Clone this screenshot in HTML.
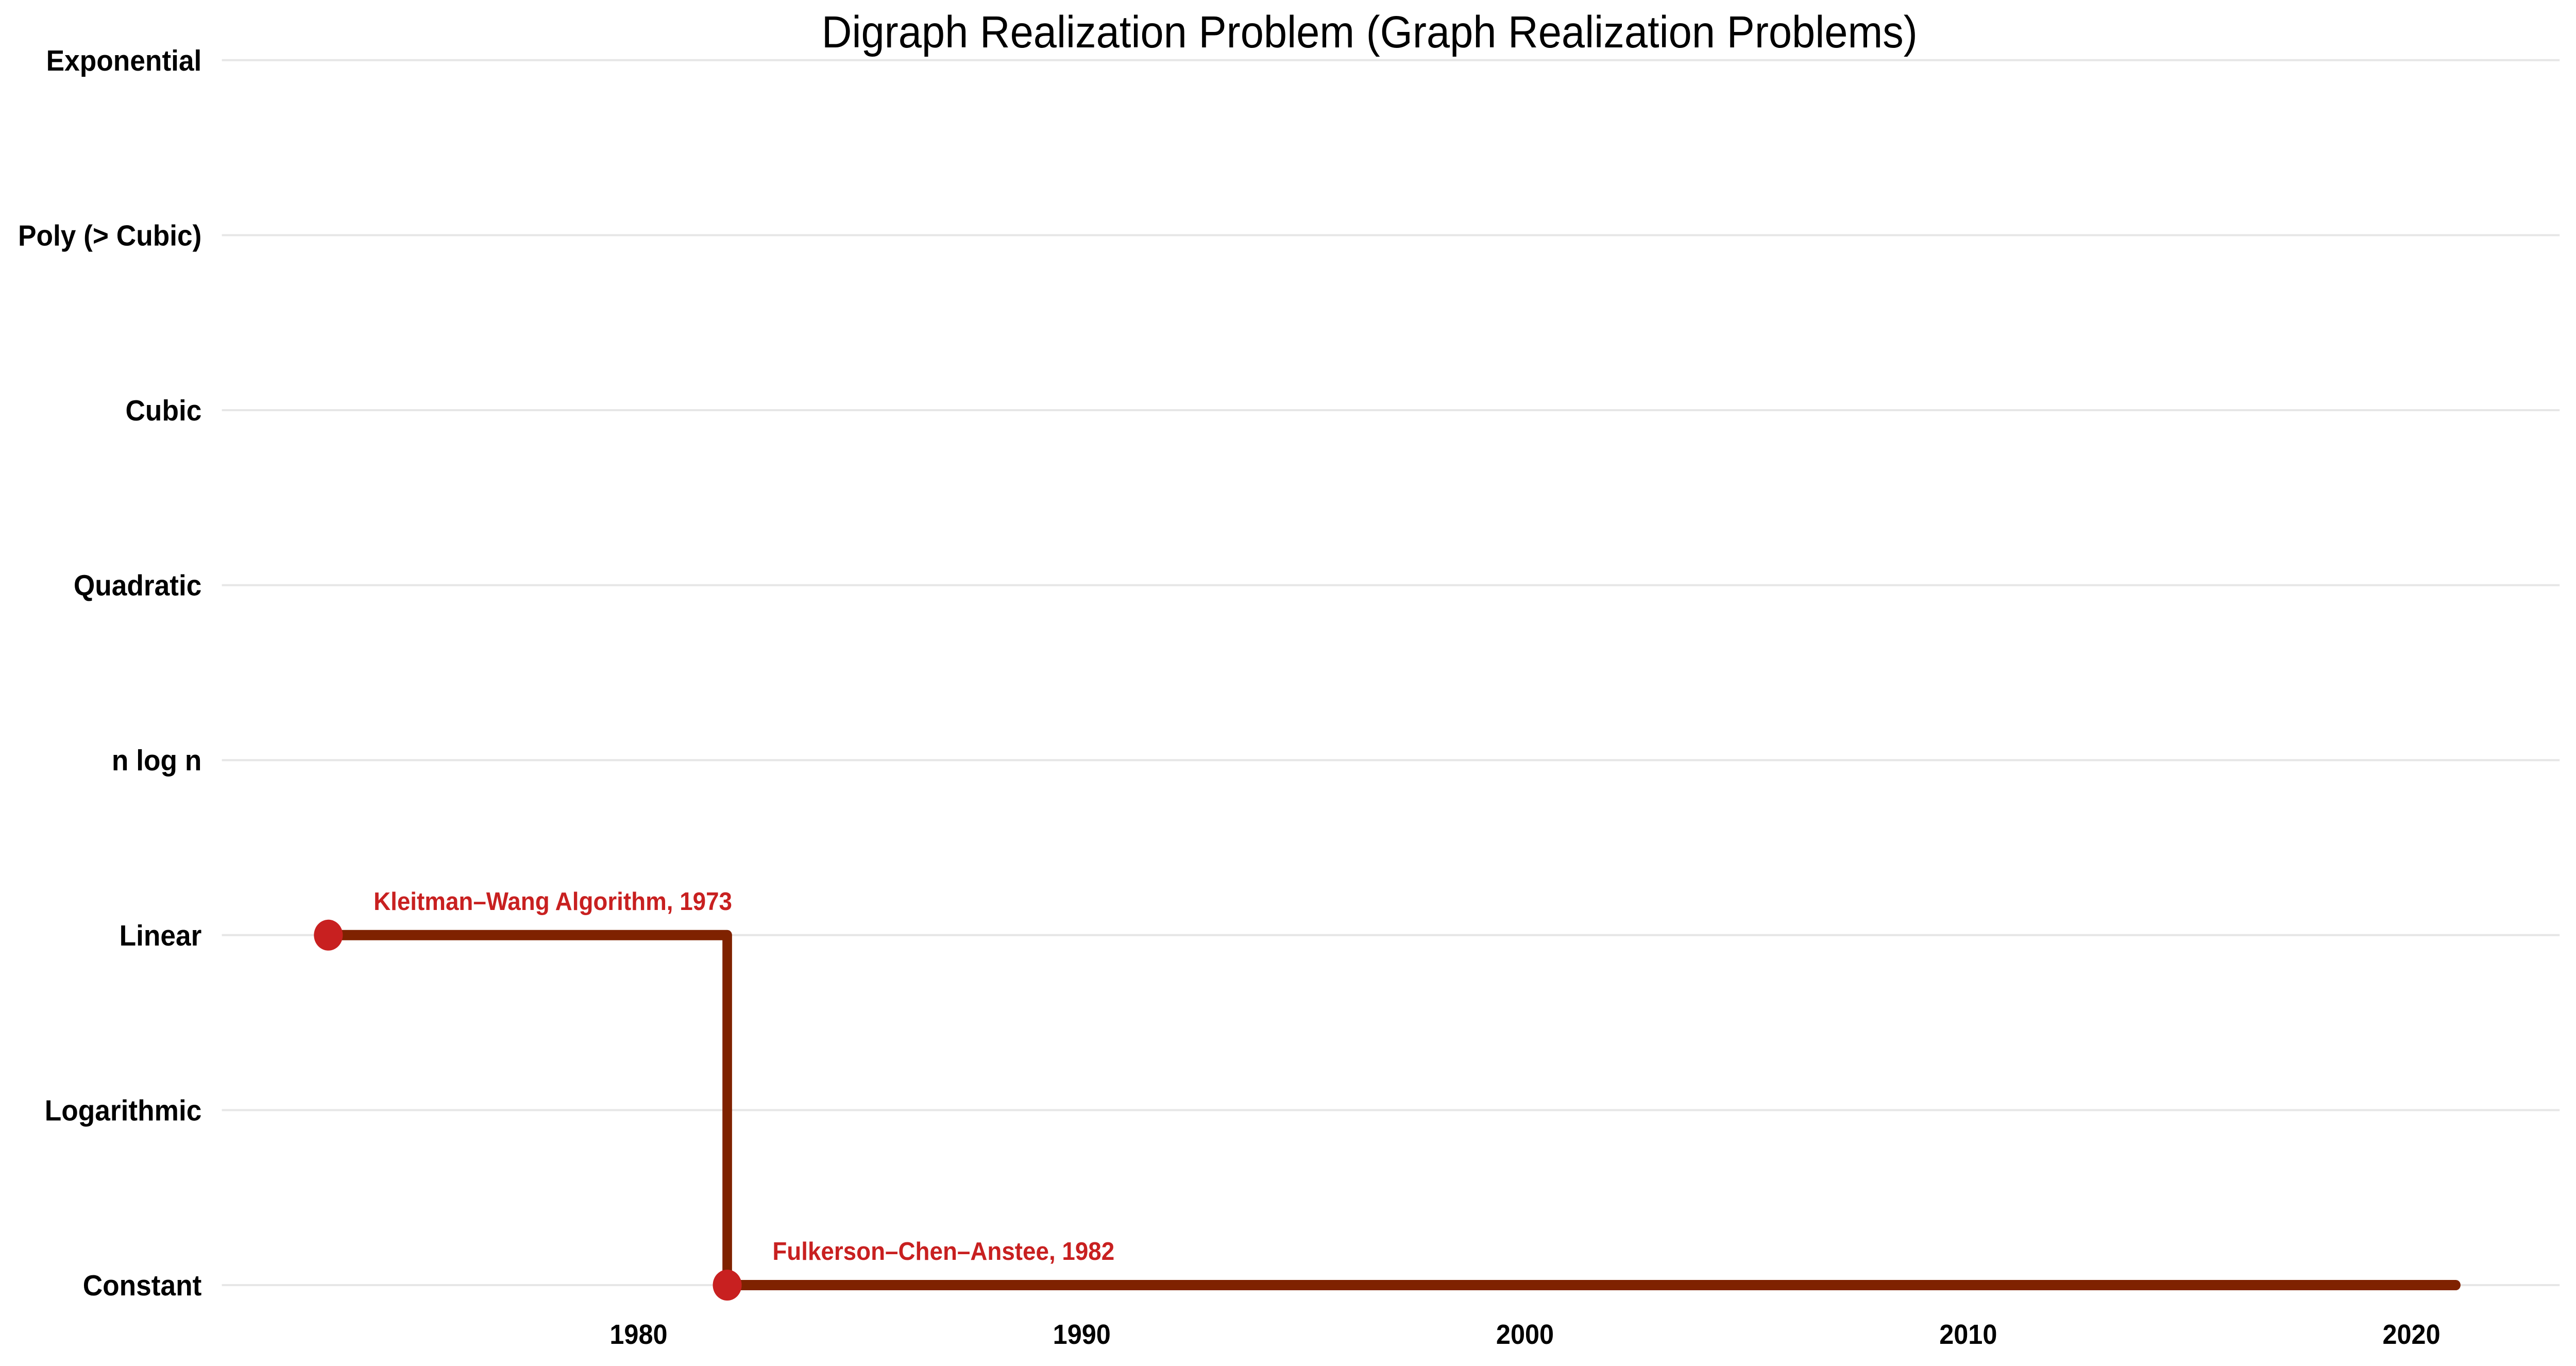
<!DOCTYPE html>
<html><head><meta charset="utf-8"><style>
html,body{margin:0;padding:0;background:#fff;overflow:hidden;width:100%;height:100%;}
svg{display:block;width:100vw;height:100vh;}
svg text{font-family:"Liberation Sans",Arial,sans-serif;}
</style></head><body>
<svg id="chart" viewBox="0 0 5353 2651" preserveAspectRatio="none" xmlns="http://www.w3.org/2000/svg">
<text x="2846" y="92" font-size="87" text-anchor="middle" fill="#000">Digraph Realization Problem (Graph Realization Problems)</text>
<g id="grid"></g>
<g id="ylabels"></g>
<g id="xlabels"></g>
<g id="series"></g>
</svg>
<script>
const categories = ["Constant","Logarithmic","Linear","n log n","Quadratic","Cubic","Poly (> Cubic)","Exponential"];
const xTicks = [1980,1990,2000,2010,2020];
const years = [1973,1982];
const levels = [2,0];
const names = ["Kleitman–Wang Algorithm, 1973","Fulkerson–Chen–Anstee, 1982"];
const endYear = 2021;

const NS="http://www.w3.org/2000/svg";
const x = yr => 1327 + (yr-1980)*92.1;
const y = lv => 2494 - lv*339.6;
function mk(tag, attrs, parent){const e=document.createElementNS(NS,tag);for(const k in attrs)e.setAttribute(k,attrs[k]);parent.appendChild(e);return e;}
const grid=document.getElementById('grid'), yl=document.getElementById('ylabels'), xl=document.getElementById('xlabels'), ser=document.getElementById('series');
categories.forEach((c,i)=>{
  const l=mk('line',{x1:461,x2:5319,y1:y(i),y2:y(i),stroke:'#e6e6e6','stroke-width':4},grid);
  
  
  const t=mk('text',{x:419,y:y(i)+20,'font-size':57,'font-weight':'bold','text-anchor':'end',fill:'#000'},yl);
  t.textContent=c;
  
  
});
xTicks.forEach(v=>{
  const t=mk('text',{x:x(v),y:2608,'font-size':54,'font-weight':'bold','text-anchor':'middle',fill:'#000'},xl);
  t.textContent=v;
  
  
});
let d='M'+x(years[0])+' '+y(levels[0]);
for(let i=1;i<years.length;i++){d+=' L'+x(years[i])+' '+y(levels[i-1])+' L'+x(years[i])+' '+y(levels[i]);}
d+=' L'+x(endYear)+' '+y(levels[levels.length-1]);
const p=mk('path',{d:d,fill:'none',stroke:'#7f2200','stroke-width':20,'stroke-linejoin':'round','stroke-linecap':'round'},ser);


years.forEach((yr,i)=>{
  const c=mk('circle',{cx:x(yr),cy:y(levels[i]),r:30,fill:'#c82020'},ser);
  
  
  const t=mk('text',{x:x(yr)+94,y:y(levels[i])-49,'font-size':49,'font-weight':'bold',fill:'#c82020'},ser);
  t.textContent=names[i];
  
  
});
</script>
</body></html>
